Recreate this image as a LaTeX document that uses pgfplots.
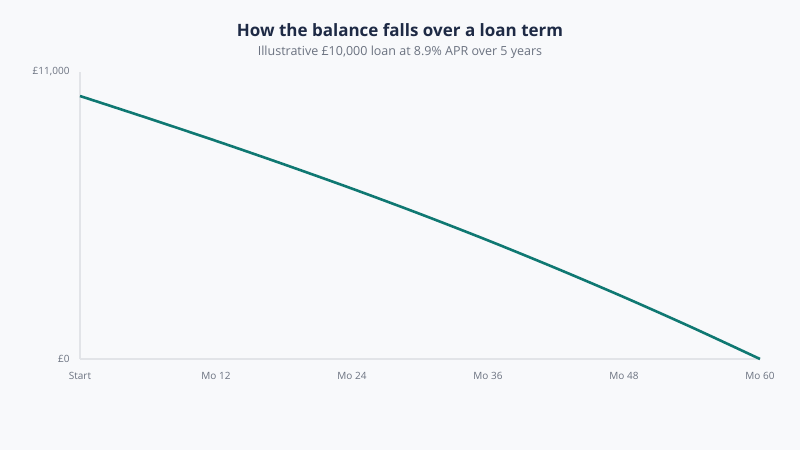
\documentclass[border=0pt]{standalone}
\usepackage{fontspec}
\setmainfont{Open Sans}
\usepackage{pgfplots}
\pgfplotsset{compat=1.18}
\definecolor{bg}{HTML}{F8F9FB}
\definecolor{titlec}{HTML}{1E2A45}
\definecolor{subc}{HTML}{6B7280}
\definecolor{tickc}{HTML}{6B7280}
\definecolor{axc}{HTML}{E2E4E8}
\definecolor{linec}{HTML}{0F7872}
\begin{document}
\begin{tikzpicture}[x=1pt,y=1pt]
\fill[bg] (0,0) rectangle (800,450);
\node[font=\fontsize{17}{20}\selectfont\bfseries, text=titlec] at (400,420) {How the balance falls over a loan term};
\node[font=\fontsize{12.5}{15}\selectfont, text=subc] at (400,398) {Illustrative £10,000 loan at 8.9\% APR over 5 years};
\begin{axis}[
  at={(80pt,91pt)}, anchor=south west,
  scale only axis, width=680pt, height=287pt,
  xmin=0, xmax=60, ymin=0, ymax=11000,
  axis lines*=left,
  axis line style={axc, line width=1.2pt, -},
  xtick={0,12,24,36,48,60},
  xticklabels={Start,Mo 12,Mo 24,Mo 36,Mo 48,Mo 60},
  ytick={0,11000},
  yticklabels={£0,{£11,000}},
  scaled y ticks=false,
  major tick length=0pt,
  tick label style={font=\fontsize{10}{12}\selectfont, text=tickc},
  xticklabel style={yshift=-10pt},
  yticklabel style={xshift=-7pt},
  clip=false,
]
\addplot[linec, line width=2.6pt, smooth] coordinates {
(0,10080) (6,9230) (12,8360) (18,7460) (24,6530) (30,5560) (36,4545) (42,3480) (48,2370) (54,1210) (60,0)
};
\end{axis}
\end{tikzpicture}
\end{document}
